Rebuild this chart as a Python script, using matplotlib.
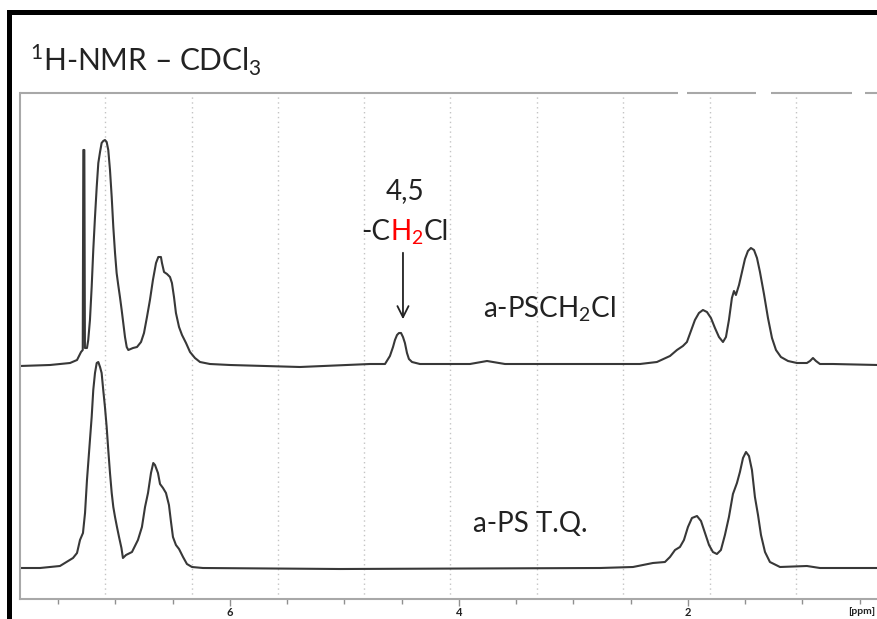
import numpy as np
import matplotlib
matplotlib.use('Agg')
import matplotlib.pyplot as plt
from matplotlib.transforms import offset_copy
from matplotlib.patches import Rectangle

plt.rcParams['font.family'] = ['Lato', 'DejaVu Sans']
plt.rcParams['mathtext.fontset'] = 'custom'
plt.rcParams['mathtext.rm'] = 'Lato'
plt.rcParams['mathtext.it'] = 'Lato:italic'
plt.rcParams['mathtext.bf'] = 'Lato:bold'

# a-PSCH2Cl spectrum, (ppm, intensity)
cl_trace = [
    (7.834, 0), (7.572, 1), (7.397, 3), (7.336, 6), (7.301, 14), (7.286, 16), (7.281, 216), (7.272, 216),
    (7.267, 18), (7.249, 18), (7.238, 26), (7.223, 46), (7.208, 79), (7.194, 116), (7.179, 149), (7.164, 179),
    (7.150, 203), (7.135, 214), (7.121, 223), (7.107, 225), (7.092, 226), (7.077, 224), (7.063, 216), (7.048, 196),
    (7.033, 169), (7.019, 139), (7.004, 113), (6.990, 93), (6.976, 81), (6.961, 69), (6.946, 56), (6.932, 43),
    (6.917, 29), (6.902, 19), (6.888, 16), (6.847, 18), (6.812, 19), (6.777, 24), (6.751, 33), (6.725, 49),
    (6.699, 66), (6.673, 86), (6.646, 103), (6.626, 109), (6.603, 109), (6.594, 103), (6.576, 94), (6.550, 92),
    (6.524, 89), (6.507, 83), (6.489, 69), (6.472, 53), (6.445, 39), (6.419, 31), (6.384, 23), (6.349, 14),
    (6.306, 8), (6.262, 4), (6.175, 2), (6.000, 1), (5.389, -1), (4.777, 2), (4.646, 2), (4.603, 10),
    (4.576, 19), (4.559, 26), (4.541, 31), (4.524, 33), (4.506, 33), (4.489, 29), (4.472, 23), (4.454, 13),
    (4.437, 7), (4.410, 4), (4.341, 2), (3.904, 2), (3.755, 5), (3.598, 2), (2.419, 2), (2.271, 4),
    (2.157, 10), (2.096, 16), (2.044, 20), (2.009, 24), (1.974, 35), (1.939, 46), (1.904, 53), (1.869, 56),
    (1.834, 54), (1.799, 48), (1.764, 38), (1.729, 29), (1.694, 24), (1.668, 29), (1.642, 46), (1.616, 68),
    (1.598, 75), (1.581, 71), (1.554, 81), (1.528, 94), (1.502, 107), (1.476, 115), (1.450, 118), (1.423, 116),
    (1.397, 108), (1.371, 94), (1.336, 72), (1.301, 48), (1.266, 28), (1.231, 16), (1.188, 9), (1.126, 5),
    (1.048, 3), (0.961, 3), (0.934, 5), (0.908, 8), (0.882, 5), (0.847, 2), (0.734, 2), (0.340, 1),
]

# a-PS T.Q. spectrum
ps_trace = [
    (7.834, 0), (7.659, 0), (7.485, 2), (7.371, 10), (7.336, 15), (7.310, 28), (7.284, 35), (7.266, 55),
    (7.249, 88), (7.223, 128), (7.208, 151), (7.194, 178), (7.179, 195), (7.164, 205), (7.150, 206), (7.135, 201),
    (7.121, 195), (7.107, 178), (7.092, 161), (7.077, 141), (7.063, 118), (7.048, 95), (7.033, 75), (7.019, 61),
    (7.004, 51), (6.987, 41), (6.969, 31), (6.948, 20), (6.935, 10), (6.908, 13), (6.856, 16), (6.804, 28),
    (6.769, 41), (6.742, 61), (6.716, 75), (6.690, 95), (6.670, 105), (6.655, 103), (6.629, 95), (6.611, 84),
    (6.585, 80), (6.559, 75), (6.533, 63), (6.515, 46), (6.498, 31), (6.472, 23), (6.445, 19), (6.410, 11),
    (6.376, 4), (6.332, 1), (6.236, 0), (5.039, -1), (2.768, 0), (2.480, 1), (2.306, 5), (2.201, 6),
    (2.157, 11), (2.113, 18), (2.070, 21), (2.035, 28), (2.000, 41), (1.965, 50), (1.921, 52), (1.886, 47),
    (1.851, 35), (1.816, 23), (1.782, 16), (1.747, 14), (1.712, 18), (1.677, 33), (1.642, 51), (1.607, 74),
    (1.572, 85), (1.546, 96), (1.519, 110), (1.493, 116), (1.467, 112), (1.441, 98), (1.415, 71), (1.388, 53),
    (1.362, 33), (1.327, 16), (1.284, 6), (1.196, 1), (0.961, 2), (0.847, 0), (0.340, 0),
]

grid_ppm = [7.092, 6.332, 5.581, 4.830, 4.079, 3.319, 2.568, 1.808, 1.057]
major_ticks = [6, 4, 2]
minor_ticks = [7.5, 7.0, 6.5, 5.5, 5.0, 4.5, 3.5, 3.0, 2.5, 1.5, 1.0, 0.5]

cl = np.array(cl_trace)
ps = np.array(ps_trace)

fig = plt.figure(figsize=(8.78, 6.19), dpi=100)
ax = fig.add_axes([20/878, 20/619, 858/878, 506/619])

for g in grid_ppm:
    ax.axvline(g, color='#c4c4c4', lw=1, ls=(0, (1, 2.5)), zorder=0)

line_col = '#383838'
ax.plot(cl[:, 0], cl[:, 1] + 233, color=line_col, lw=1.5, solid_joinstyle='round')
ax.plot(ps[:, 0], ps[:, 1] + 31, color=line_col, lw=1.5, solid_joinstyle='round')

ax.set_xlim(7.834, 0.340)
ax.set_ylim(0, 506)
ax.set_yticks([])
ax.set_xticks(major_ticks)
ax.set_xticks(minor_ticks, minor=True)
ax.set_xticklabels([str(t) for t in major_ticks], fontweight='bold')
ax.tick_params(axis='x', which='major', length=5, width=1, color='#909090',
               labelsize=8, labelcolor='#222222', pad=0.5)
ax.tick_params(axis='x', which='minor', length=3.5, width=1, color='#909090')

for s in ['right', 'top']:
    ax.spines[s].set_visible(False)
for s in ['left', 'bottom']:
    ax.spines[s].set_color('#a8a8a8')
    ax.spines[s].set_linewidth(1.5)

# top border: solid, then broken
for a, b in [(0, 0.767), (0.7774, 0.8578), (0.8753, 0.9697), (0.9848, 1.0)]:
    ax.plot([a, b], [1, 1], transform=ax.transAxes, color='#a8a8a8', lw=1.5,
            clip_on=False, solid_capstyle='butt')

ax.annotate('[ppm]', xy=(0.981, 0), xycoords='axes fraction', xytext=(0, -6),
            textcoords='offset points', ha='center', va='top', fontsize=7.5,
            fontweight='bold', color='#222222')


def multi_text(x, y, parts, ha='left'):
    # parts: (text, color); drawn next to each other on one baseline
    r = fig.canvas.get_renderer()
    widths = []
    for s, c in parts:
        t = ax.text(0, 0, s, fontsize=20)
        widths.append(t.get_window_extent(r).width * 72 / fig.dpi)
        t.remove()
    off = -sum(widths) / 2 if ha == 'center' else 0
    for (s, c), w in zip(parts, widths):
        ax.text(x, y, s, color=c, fontsize=20, va='baseline',
                transform=offset_copy(ax.transData, fig=fig, x=off, y=0, units='points'))
        off += w


fig.canvas.draw()
multi_text(4.472, 400, [('4,5', '#222222')], ha='center')
multi_text(4.472, 359, [('-C', '#222222'), ('H$_2$', 'red'), ('Cl', '#222222')], ha='center')
multi_text(3.790, 282, [('a-PSCH$_2$Cl', '#222222')])
multi_text(3.878, 67, [('a-PS T.Q.', '#222222')])

ax.annotate('', xy=(4.489, 277), xytext=(4.489, 349),
            arrowprops=dict(arrowstyle='->', color='#222222', lw=1.3, mutation_scale=20))

fig.text(30/878, 1 - 71/619, '$^1$H-NMR – CDCl$_3$', fontsize=21.5, va='baseline',
         color='#222222')

# black frame around the picture
fig.add_artist(Rectangle((9.5/878, -0.1), 1.2, (619 - 11.5)/619 + 0.1,
                         transform=fig.transFigure, fill=False, lw=3.6,
                         edgecolor='black', clip_on=False))

fig.savefig('out.png', dpi=100)
